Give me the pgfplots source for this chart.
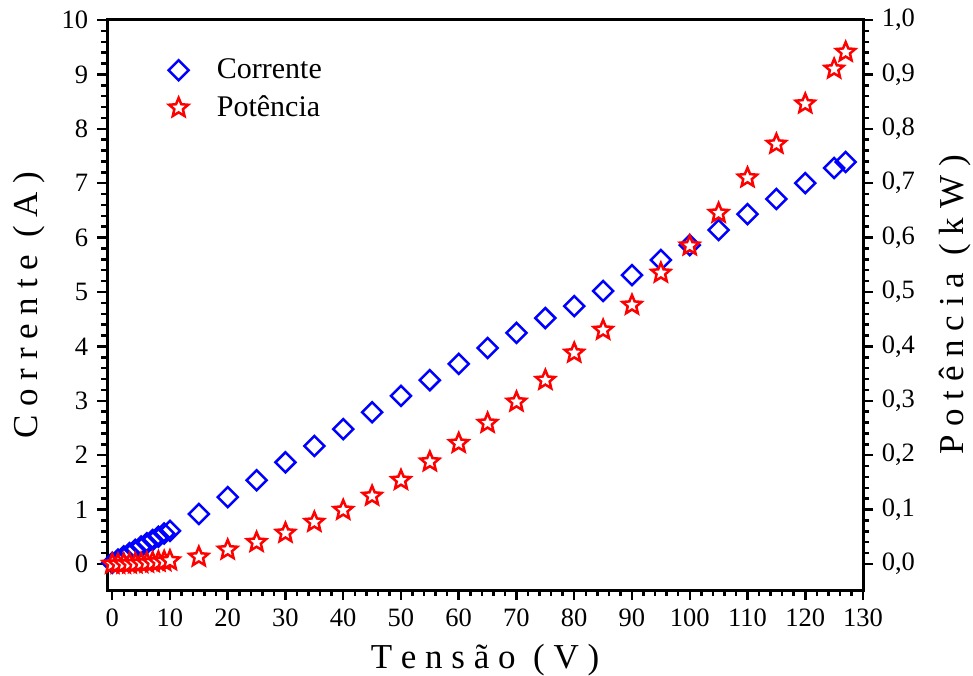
\documentclass[border=0pt]{standalone}
\usepackage{pgfplots}
\pgfplotsset{compat=1.18}
\usepackage{fontspec}
\setmainfont{Liberation Serif}

% open diamond (square turned 45 degrees)
\pgfdeclareplotmark{dia}{%
  \pgfpathmoveto{\pgfqpoint{0pt}{\pgfplotmarksize}}%
  \pgfpathlineto{\pgfqpoint{\pgfplotmarksize}{0pt}}%
  \pgfpathlineto{\pgfqpoint{0pt}{-\pgfplotmarksize}}%
  \pgfpathlineto{\pgfqpoint{-\pgfplotmarksize}{0pt}}%
  \pgfpathclose
  \pgfusepathqstroke}
% five-point star, filled with the fill colour
\pgfdeclareplotmark{fstar}{%
  \pgfpathmoveto{\pgfpointpolar{90}{\pgfplotmarksize}}%
  \pgfpathlineto{\pgfpointpolar{126}{0.45\pgfplotmarksize}}%
  \pgfpathlineto{\pgfpointpolar{162}{\pgfplotmarksize}}%
  \pgfpathlineto{\pgfpointpolar{198}{0.45\pgfplotmarksize}}%
  \pgfpathlineto{\pgfpointpolar{234}{\pgfplotmarksize}}%
  \pgfpathlineto{\pgfpointpolar{270}{0.45\pgfplotmarksize}}%
  \pgfpathlineto{\pgfpointpolar{306}{\pgfplotmarksize}}%
  \pgfpathlineto{\pgfpointpolar{342}{0.45\pgfplotmarksize}}%
  \pgfpathlineto{\pgfpointpolar{18}{\pgfplotmarksize}}%
  \pgfpathlineto{\pgfpointpolar{54}{0.45\pgfplotmarksize}}%
  \pgfpathclose
  \pgfusepathqfillstroke}

\begin{document}
\begin{tikzpicture}
\pgfplotsset{
  base/.style={
    scale only axis,
    width=302.4pt, height=228pt,
    xmin=-0.9, xmax=130,
    tick align=outside,
    major tick length=4pt,
    minor tick length=2.4pt,
    every tick/.style={line width=1pt, black},
    axis line style={line width=1.2pt},
    tick label style={font=\fontsize{10.6}{12}\selectfont},
    label style={font=\fontsize{14}{16}\selectfont},
    /pgf/number format/assume math mode=true,
  },
}
\begin{axis}[
    base, name=ax,
    ymin=-0.478, ymax=10,
    xtick={0,10,...,130}, minor x tick num=4,
    ytick={0,1,...,10}, minor y tick num=4,
    xtick pos=left, ytick pos=left,
    xlabel={T e n s ã o\ \ ( V )},
    ylabel={C o r r e n t e\ \ ( A )},
    legend cell align=left,
    legend image code/.code={%
      \path (0cm,0cm) (0.7cm,0cm);
      \draw[mark repeat=1,#1] plot coordinates {(0.25cm,0cm)};},
    legend style={draw=none, fill=none, at={(0.059,0.951)}, anchor=north west,
      font=\fontsize{12}{14}\selectfont, row sep=1.4pt},
  ]
  \addplot[only marks, mark=dia, mark size=4pt, blue, line width=1pt] coordinates {
    (0,0.02) (1,0.08) (2,0.14) (3,0.20) (4,0.26) (5,0.32) (6,0.38) (7,0.44)
    (8,0.50) (9,0.56) (10,0.61)
    (15,0.92) (20,1.23) (25,1.54) (30,1.87) (35,2.17) (40,2.48) (45,2.79)
    (50,3.09) (55,3.38) (60,3.68) (65,3.97) (70,4.25) (75,4.52) (80,4.74)
    (85,5.02) (90,5.31) (95,5.59) (100,5.86) (105,6.14) (110,6.43) (115,6.71)
    (120,7.00) (125,7.28) (127,7.39)
  };
  \addlegendentry{Corrente}
  \addlegendimage{only marks, mark=fstar, mark size=4pt, red, line width=1pt, mark options={fill=white}}
  \addlegendentry{Potência}
\end{axis}
\begin{axis}[
    base,
    ymin=-0.0478, ymax=1.0,
    axis x line=none, axis y line*=right,
    ytick={0,0.1,0.2,0.3,0.4,0.5,0.6,0.7,0.8,0.9,1.0}, minor y tick num=4,
    yticklabel style={/pgf/number format/.cd, use comma, fixed, fixed zerofill, precision=1},
    ylabel={P o t ê n c i a\ \ ( k W )},
    ylabel shift=3pt,
  ]
  \addplot[only marks, mark=fstar, mark size=4pt, red, line width=1pt, mark options={fill=white}] coordinates {
    (0,0.0) (1,0.0001) (2,0.0003) (3,0.0006) (4,0.001) (5,0.0016) (6,0.0022)
    (7,0.003) (8,0.004) (9,0.005) (10,0.0062)
    (15,0.013) (20,0.026) (25,0.040) (30,0.057) (35,0.077) (40,0.099) (45,0.125)
    (50,0.154) (55,0.188) (60,0.222) (65,0.259) (70,0.298) (75,0.338) (80,0.388)
    (85,0.430) (90,0.476) (95,0.535) (100,0.585) (105,0.645) (110,0.710)
    (115,0.772) (120,0.846) (125,0.910) (127,0.941)
  };
\end{axis}
\pgfresetboundingbox
\path ([shift={(-42.8pt,-34pt)}]ax.south west) rectangle ([shift={(44pt,8pt)}]ax.north east);
\end{tikzpicture}
\end{document}
